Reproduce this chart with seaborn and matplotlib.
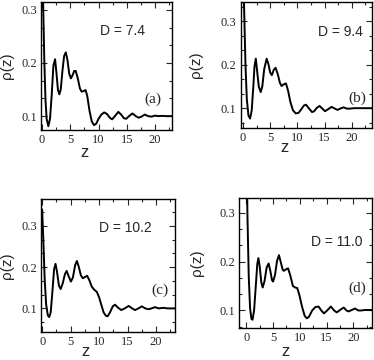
import numpy as np
import matplotlib
matplotlib.use("Agg")
import matplotlib.pyplot as plt
import seaborn as sns
from matplotlib.ticker import MultipleLocator, AutoMinorLocator

# density profiles
z_a = [0.0, 0.2, 0.4, 0.6, 0.8, 1.1, 1.4, 1.7, 2.0, 2.3, 2.55, 2.8, 3.05, 3.3, 3.6,
       3.9, 4.2, 4.5, 4.8, 5.1, 5.4, 5.7, 5.95, 6.3, 6.7, 7.0, 7.3, 7.7, 8.0, 8.4,
       8.8, 9.2, 9.6, 10.0, 10.5, 11.0, 11.5, 12.0, 12.4, 12.9, 13.5, 14.0, 14.5,
       14.9, 15.4, 16.0, 16.6, 17.1, 17.6, 18.2, 18.8, 19.4, 20.0, 20.6, 21.2, 22.0, 23.5]
rho_a = [0.45, 0.30, 0.20, 0.13, 0.095, 0.081, 0.095, 0.14, 0.195, 0.207, 0.18, 0.15,
         0.141, 0.15, 0.185, 0.213, 0.220, 0.205, 0.18, 0.171, 0.177, 0.185, 0.185,
         0.172, 0.152, 0.146, 0.147, 0.149, 0.138, 0.11, 0.09, 0.083, 0.086, 0.095,
         0.103, 0.107, 0.104, 0.097, 0.094, 0.10, 0.108, 0.103, 0.096, 0.095, 0.10,
         0.105, 0.100, 0.097, 0.099, 0.103, 0.100, 0.099, 0.101, 0.100, 0.1005, 0.100, 0.100]

z_b = [0.0, 0.2, 0.45, 0.7, 1.0, 1.3, 1.6, 1.9, 2.1, 2.35, 2.6, 2.9, 3.25, 3.55, 3.9,
       4.35, 4.7, 5.0, 5.3, 5.65, 6.0, 6.4, 6.8, 7.1, 7.5, 7.9, 8.3, 8.7, 9.2, 9.7,
       10.2, 10.7, 11.2, 11.6, 12.1, 12.7, 13.1, 13.6, 14.1, 14.6, 15.1, 15.6, 16.3,
       16.9, 17.4, 17.9, 18.5, 19.1, 19.7, 20.4, 21.2, 22.0, 24.0]
rho_b = [0.50, 0.33, 0.20, 0.12, 0.083, 0.076, 0.095, 0.15, 0.195, 0.214, 0.185, 0.15,
         0.137, 0.15, 0.19, 0.214, 0.20, 0.182, 0.176, 0.188, 0.193, 0.178, 0.158,
         0.151, 0.155, 0.157, 0.14, 0.115, 0.095, 0.088, 0.089, 0.097, 0.106, 0.108,
         0.10, 0.091, 0.093, 0.101, 0.105, 0.099, 0.093, 0.097, 0.103, 0.099, 0.096,
         0.099, 0.102, 0.099, 0.099, 0.100, 0.100, 0.100, 0.100]

z_c = [0.0, 0.2, 0.45, 0.7, 1.0, 1.25, 1.5, 1.8, 2.1, 2.35, 2.6, 2.95, 3.25, 3.6, 4.0,
       4.3, 4.65, 5.05, 5.4, 5.8, 6.1, 6.45, 6.8, 7.15, 7.5, 7.9, 8.3, 8.7, 9.1, 9.6,
       10.0, 10.4, 10.8, 11.2, 11.5, 11.9, 12.4, 12.8, 13.3, 13.9, 14.5, 15.2, 15.8,
       16.3, 16.9, 17.5, 18.1, 18.7, 19.2, 19.8, 20.5, 21.3, 22.0, 23.5]
rho_c = [0.34, 0.27, 0.17, 0.11, 0.083, 0.079, 0.09, 0.14, 0.195, 0.208, 0.19, 0.155,
         0.147, 0.16, 0.183, 0.191, 0.178, 0.165, 0.175, 0.205, 0.215, 0.20, 0.18,
         0.173, 0.176, 0.179, 0.168, 0.153, 0.146, 0.14, 0.127, 0.108, 0.09, 0.082,
         0.081, 0.09, 0.105, 0.109, 0.102, 0.096, 0.10, 0.106, 0.10, 0.096, 0.10,
         0.105, 0.10, 0.098, 0.10, 0.103, 0.10, 0.1015, 0.10, 0.10]

z_d = [0.0, 0.2, 0.45, 0.7, 0.95, 1.16, 1.45, 1.8, 2.05, 2.26, 2.5, 2.8, 3.06, 3.4, 3.8,
       4.16, 4.5, 4.8, 5.0, 5.35, 5.75, 6.1, 6.45, 6.8, 7.0, 7.4, 7.8, 8.2, 8.7, 9.1,
       9.5, 9.9, 10.4, 10.9, 11.3, 11.7, 12.3, 12.9, 13.5, 14.0, 14.5, 15.1, 15.8,
       16.4, 16.9, 17.5, 18.2, 18.7, 19.1, 19.7, 20.3, 20.9, 21.5, 22.2, 23.5]
rho_d = [0.50, 0.30, 0.17, 0.105, 0.083, 0.081, 0.10, 0.155, 0.195, 0.207, 0.19, 0.157,
         0.147, 0.16, 0.188, 0.196, 0.18, 0.162, 0.159, 0.172, 0.202, 0.213, 0.198,
         0.183, 0.181, 0.184, 0.186, 0.172, 0.15, 0.147, 0.146, 0.132, 0.108, 0.089,
         0.084, 0.087, 0.10, 0.107, 0.108, 0.10, 0.094, 0.10, 0.108, 0.10, 0.096,
         0.101, 0.106, 0.10, 0.098, 0.101, 0.104, 0.10, 0.10, 0.101, 0.101]

labels_D = ["D = 7.4", "D = 9.4", "D = 10.2", "D = 11.0"]
panel_tags = ["(a)", "(b)", "(c)", "(d)"]

sns.set_theme(style="ticks")
plt.rcParams['font.family'] = ['Liberation Serif', 'DejaVu Serif']

fig = plt.figure(figsize=(3.74, 3.60), dpi=100)

boxes = [(0.1096, 0.639, 0.350, 0.356),
         (0.644, 0.644, 0.350, 0.350),
         (0.1096, 0.078, 0.358, 0.369),
         (0.640, 0.090, 0.355, 0.359)]
xlims = [(-0.2, 23.0), (-0.4, 23.7), (-0.2, 23.3), (-1.3, 23.5)]
ylims = [(0.074, 0.315), (0.054, 0.344), (0.043, 0.365), (0.065, 0.329)]
d_pos = [(0.62, 0.77), (0.76, 0.76), (0.63, 0.78), (0.736, 0.665)]
tag_pos = [(0.857, 0.242), (0.89, 0.236), (0.888, 0.316), (0.887, 0.305)]
ylab_x = [-0.206, -0.29, -0.20, -0.266]
xlab = [(0.336, -0.117), (0.33, -0.095), (0.336, -0.09), (0.344, -0.126)]

data = [(z_a, rho_a), (z_b, rho_b), (z_c, rho_c), (z_d, rho_d)]

for i, (z, rho) in enumerate(data):
    ax = fig.add_axes(boxes[i])
    sns.lineplot(x=z, y=rho, ax=ax, color='black', linewidth=1.4, sort=False)
    ax.set_xlim(*xlims[i])
    ax.set_ylim(*ylims[i])
    ax.xaxis.set_major_locator(MultipleLocator(5))
    ax.xaxis.set_minor_locator(AutoMinorLocator(2))
    ax.yaxis.set_major_locator(MultipleLocator(0.1))
    ax.yaxis.set_minor_locator(AutoMinorLocator(3))
    ax.tick_params(which='both', direction='in', top=True, right=True,
                   labelsize=9, pad=3, width=0.8)
    ax.tick_params(which='major', length=4)
    ax.tick_params(which='minor', length=2)
    for s in ax.spines.values():
        s.set_linewidth(1.0)
        s.set_color('black')
    ax.set_xlabel('z', fontsize=12, family='Liberation Sans')
    ax.set_ylabel('ρ(z)', fontsize=11, family='Liberation Sans')
    ax.xaxis.set_label_coords(*xlab[i])
    ax.yaxis.set_label_coords(ylab_x[i], 0.5)
    ax.text(d_pos[i][0], d_pos[i][1], labels_D[i], transform=ax.transAxes,
            ha='center', va='center', fontsize=10, family='Liberation Sans')
    ax.text(tag_pos[i][0], tag_pos[i][1], panel_tags[i], transform=ax.transAxes,
            ha='center', va='center', fontsize=11)

fig.savefig('out.png', dpi=100)
